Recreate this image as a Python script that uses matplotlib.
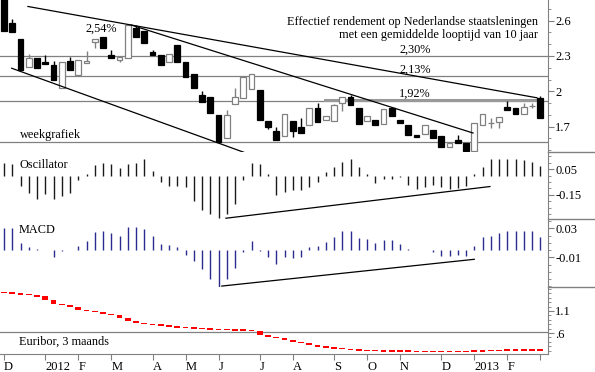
import numpy as np
import pandas as pd
import matplotlib
matplotlib.use("Agg")
import matplotlib.pyplot as plt
from matplotlib.ticker import MultipleLocator

plt.rcParams['font.family'] = ['Liberation Serif', 'DejaVu Serif']
plt.rcParams['font.size'] = 8.8

# weekly bars, dated on Fridays
weeks = pd.date_range("2011-12-02", periods=66, freq="W-FRI")
tick_labels = ["D", "2012", "F", "M", "A", "M", "J", "J", "A", "S", "O", "N", "D", "2013", "F", ""]

# 10-year Dutch government bond yield, weekly OHLC
yld_open = [2.80, 2.58, 2.44, 2.21, 2.28, 2.25, 2.22, 2.03, 2.26, 2.14, 2.24, 2.42, 2.46, 2.31, 2.27, 2.28,
            2.54, 2.51, 2.33, 2.31, 2.25, 2.39, 2.25, 2.15, 1.97, 1.95, 1.80, 1.60, 1.89, 1.94, 2.02, 2.01,
            1.75, 1.66, 1.62, 1.75, 1.70, 1.71, 1.86, 1.76, 1.75, 1.90, 1.95, 1.86, 1.75, 1.76, 1.72, 1.86,
            1.76, 1.71, 1.63, 1.64, 1.67, 1.62, 1.53, 1.59, 1.56, 1.49, 1.71, 1.73, 1.74, 1.87, 1.86, 1.81,
            1.876, 1.94]
yld_high = [2.80, 2.61, 2.44, 2.32, 2.28, 2.31, 2.26, 2.25, 2.29, 2.27, 2.34, 2.44, 2.46, 2.35, 2.29, 2.56,
            2.56, 2.51, 2.35, 2.31, 2.32, 2.39, 2.25, 2.15, 2.00, 1.95, 1.80, 1.84, 2.03, 2.12, 2.15, 2.01,
            1.75, 1.70, 1.81, 1.75, 1.77, 1.86, 1.90, 1.79, 1.89, 1.95, 1.97, 1.86, 1.79, 1.76, 1.85, 1.86,
            1.76, 1.71, 1.63, 1.71, 1.67, 1.62, 1.56, 1.63, 1.56, 1.73, 1.81, 1.77, 1.78, 1.92, 1.86, 1.90,
            1.90, 1.96]
yld_low = [2.51, 2.50, 2.18, 2.21, 2.20, 2.23, 2.10, 2.03, 2.18, 2.14, 2.24, 2.37, 2.37, 2.28, 2.25, 2.28,
           2.46, 2.41, 2.31, 2.22, 2.25, 2.25, 2.12, 2.03, 1.91, 1.82, 1.57, 1.60, 1.89, 1.94, 2.02, 1.76,
           1.68, 1.59, 1.62, 1.61, 1.65, 1.71, 1.74, 1.76, 1.75, 1.83, 1.88, 1.72, 1.75, 1.71, 1.72, 1.79,
           1.73, 1.63, 1.615, 1.64, 1.60, 1.53, 1.53, 1.56, 1.49, 1.49, 1.71, 1.69, 1.69, 1.84, 1.81, 1.81,
           1.855, 1.77]
yld_close = [2.51, 2.50, 2.18, 2.28, 2.20, 2.23, 2.10, 2.25, 2.18, 2.27, 2.26, 2.44, 2.37, 2.28, 2.29, 2.56,
             2.46, 2.41, 2.31, 2.22, 2.32, 2.25, 2.12, 2.03, 1.91, 1.82, 1.57, 1.80, 1.95, 2.12, 2.15, 1.76,
             1.70, 1.59, 1.81, 1.66, 1.65, 1.86, 1.74, 1.79, 1.88, 1.95, 1.88, 1.72, 1.79, 1.71, 1.85, 1.79,
             1.73, 1.63, 1.615, 1.71, 1.60, 1.53, 1.56, 1.56, 1.49, 1.73, 1.81, 1.73, 1.78, 1.84, 1.81, 1.87,
             1.876, 1.77]

levels = [2.30, 2.13, 1.92, 1.57]
level_labels = ["2,30%", "2,13%", "1,92%", ""]
level_label_week = 49.8
peak_label = "2,54%"
peak_pos = (11.8, 2.53)
resistance = (38.9, 65.1, 1.93)   # start week, end week, level

price_trends = [[(2.9, 2.72), (64.6, 1.945)],
                [(15.4, 2.563), (56.85, 1.646)],
                [(0.93, 2.196), (29.45, 1.473)]]

oscillator = [0.10, 0.09, -0.08, -0.137, -0.18, -0.142, -0.18, -0.155, -0.137, -0.035, 0.01, 0.08,
              0.094, 0.09, 0.055, 0.088, 0.098, 0.125, 0.037, -0.048, -0.078, -0.08, -0.086, -0.20,
              -0.265, -0.30, -0.33, -0.30, -0.22, -0.035, 0.098, 0.088, 0.015, -0.15, -0.125, -0.112,
              -0.108, -0.086, -0.048, 0.03, 0.063, 0.106, 0.125, 0.063, 0.01, -0.055, -0.03, -0.025,
              -0.015, -0.073, -0.106, -0.09, -0.073, -0.09, -0.106, -0.10, -0.082, 0.01, 0.063, 0.125,
              0.125, 0.125, 0.125, 0.12, 0.105, 0.073]
osc_trend = [(26.9, -0.329), (58.9, -0.085)]

macd = [0.030, 0.030, 0.0092, 0.0046, 0.001, 0.0005, -0.0092, -0.002, 0.0005, 0.006, 0.012, 0.0244,
        0.026, 0.023, 0.020, 0.032, 0.032, 0.029, 0.020, 0.0083, 0.0074, 0.0037, -0.0064, -0.0147,
        -0.026, -0.040, -0.0506, -0.040, -0.0248, -0.003, 0.0129, -0.001, -0.010, -0.019, -0.010, -0.011,
        -0.010, 0.0046, 0.006, 0.0106, 0.018, 0.0267, 0.0267, 0.0166, 0.015, 0.0092, 0.0138, 0.0138,
        0.0083, 0.0014, 0.0003, 0.0005, -0.003, -0.0078, -0.0078, -0.0064, -0.0078, 0.006, 0.0175, 0.0198,
        0.023, 0.0267, 0.0267, 0.0267, 0.0267, 0.018]
macd_trend = [(26.4, -0.0497), (57.0, -0.0128)]

euribor = [1.52, 1.50, 1.48, 1.46, 1.43, 1.35, 1.27, 1.23, 1.18, 1.13, 1.10, 1.07, 1.04, 1.00, 0.93, 0.88,
           0.83, 0.80, 0.79, 0.77, 0.74, 0.73, 0.71, 0.71, 0.69, 0.68, 0.68, 0.67, 0.67, 0.66, 0.645, 0.55,
           0.51, 0.48, 0.44, 0.40, 0.37, 0.32, 0.29, 0.27, 0.25, 0.24, 0.21, 0.21, 0.20, 0.20, 0.19, 0.19,
           0.19, 0.19, 0.18, 0.18, 0.18, 0.18, 0.18, 0.18, 0.19, 0.19, 0.20, 0.20, 0.21, 0.22, 0.22, 0.22,
           0.21, 0.21]
euribor_level = 0.63

# ---------------------------------------------------------------
W, H = 595, 372
AX_R = 547.7
GRAY = "#808080"
x = np.arange(len(weeks))
tick_pos = [i for i in range(len(weeks)) if i == 0 or weeks[i].month != weeks[i - 1].month]

fig = plt.figure(figsize=(W / 100, H / 100), dpi=100)


def panel(top, bottom):
    ax = fig.add_axes([0, 1 - bottom / H, AX_R / W, (bottom - top) / H])
    ax.set_xlim(-0.485, 65.9)
    for s in ["top", "left", "bottom"]:
        ax.spines[s].set_visible(False)
    ax.spines["right"].set_color(GRAY)
    ax.yaxis.tick_right()
    ax.tick_params(axis="y", which="both", direction="out", colors=GRAY, labelcolor="black",
                   pad=1.5, labelsize=9)
    ax.tick_params(axis="y", which="major", length=4)
    ax.tick_params(axis="y", which="minor", length=2.5)
    ax.set_xticks([])
    return ax


# price panel
ax1 = panel(0, 152)
ax1.set_ylim(1.485, 2.775)
o = np.array(yld_open); c = np.array(yld_close)
up = c >= o
ax1.vlines(x, yld_low, yld_high, colors=np.where(up, GRAY, "black"), lw=1, zorder=3)
ax1.bar(x, np.abs(c - o), bottom=np.minimum(o, c), width=0.7,
        color=np.where(up, "white", "black"), edgecolor=np.where(up, GRAY, "black"), linewidth=0.9, zorder=4)
for lv, lb in zip(levels, level_labels):
    ax1.axhline(lv, color=GRAY, lw=0.9, zorder=1)
    if lb:
        ax1.annotate(lb, (level_label_week, lv), xytext=(0, 0.5), textcoords="offset points",
                     ha="center", va="bottom")
ax1.plot(resistance[:2], [resistance[2]] * 2, color="#999999", lw=2.2, zorder=2)
for (p, q) in price_trends:
    ax1.plot([p[0], q[0]], [p[1], q[1]], color="black", lw=0.9, zorder=5, clip_on=False)
ax1.text(*peak_pos, peak_label, ha="center", va="center")
ax1.text(0.982, 0.855, "Effectief rendement op Nederlandse staatsleningen", transform=ax1.transAxes,
         ha="right", va="center")
ax1.text(0.982, 0.77, "met een gemiddelde looptijd van 10 jaar", transform=ax1.transAxes,
         ha="right", va="center")
ax1.text(0.0365, 0.112, "weekgrafiek", transform=ax1.transAxes, ha="left", va="center")
ax1.set_yticks([2.6, 2.3, 2.0, 1.7])
ax1.set_yticklabels(["2.6", "2.3", "2", "1.7"])
ax1.yaxis.set_minor_locator(MultipleLocator(0.1))

# oscillator
ax2 = panel(152, 219)
ax2.set_ylim(-0.335, 0.181)
ax2.vlines(x, 0, oscillator, colors="#1a1a1a", lw=1)
ax2.plot(*zip(*osc_trend), color="black", lw=0.9)
ax2.text(0.0347, 0.806, "Oscillator", transform=ax2.transAxes, ha="left", va="center")
ax2.set_yticks([0.05, -0.15])
ax2.set_yticklabels(["0.05", "-0.15"])
ax2.yaxis.set_minor_locator(MultipleLocator(0.05))

# MACD
ax3 = panel(219, 287)
ax3.set_ylim(-0.051, 0.0428)
ax3.vlines(x, 0, macd, colors="#2a2a90", lw=1)
ax3.plot(*zip(*macd_trend), color="black", lw=0.9)
ax3.text(0.0347, 0.838, "MACD", transform=ax3.transAxes, ha="left", va="center")
ax3.set_yticks([0.03, -0.01])
ax3.set_yticklabels(["0.03", "-0.01"])
ax3.yaxis.set_minor_locator(MultipleLocator(0.01))

# Euribor
ax4 = panel(287, 354)
ax4.set_ylim(0.123, 1.645)
e = np.array(euribor)
e_open = np.r_[e[0] + 0.01, e[:-1]]
h = np.maximum(np.abs(e - e_open), 0.035)
mid = (e + e_open) / 2
ax4.bar(x, h, bottom=mid - h / 2, width=0.7, color="red", linewidth=0)
ax4.axhline(euribor_level, color=GRAY, lw=0.9, zorder=0)
ax4.text(0.0347, 0.184, "Euribor, 3 maands", transform=ax4.transAxes, ha="left", va="center")
ax4.set_yticks([1.1, 0.6])
ax4.set_yticklabels(["1.1", ".6"])
ax4.yaxis.set_minor_locator(MultipleLocator(0.1))
ax4.spines["bottom"].set_visible(True)
ax4.spines["bottom"].set_color(GRAY)
ax4.set_xticks(tick_pos)
ax4.set_xticklabels(tick_labels, ha="left")
ax4.tick_params(axis="x", direction="out", length=4, colors=GRAY, labelcolor="black", pad=1,
                labelsize=9)

# separators right of the value axis
for yy in [152, 219, 287]:
    fig.add_artist(plt.Line2D([AX_R / W, 1], [1 - yy / H] * 2, color=GRAY, lw=1))

fig.savefig("out.png", dpi=100)
